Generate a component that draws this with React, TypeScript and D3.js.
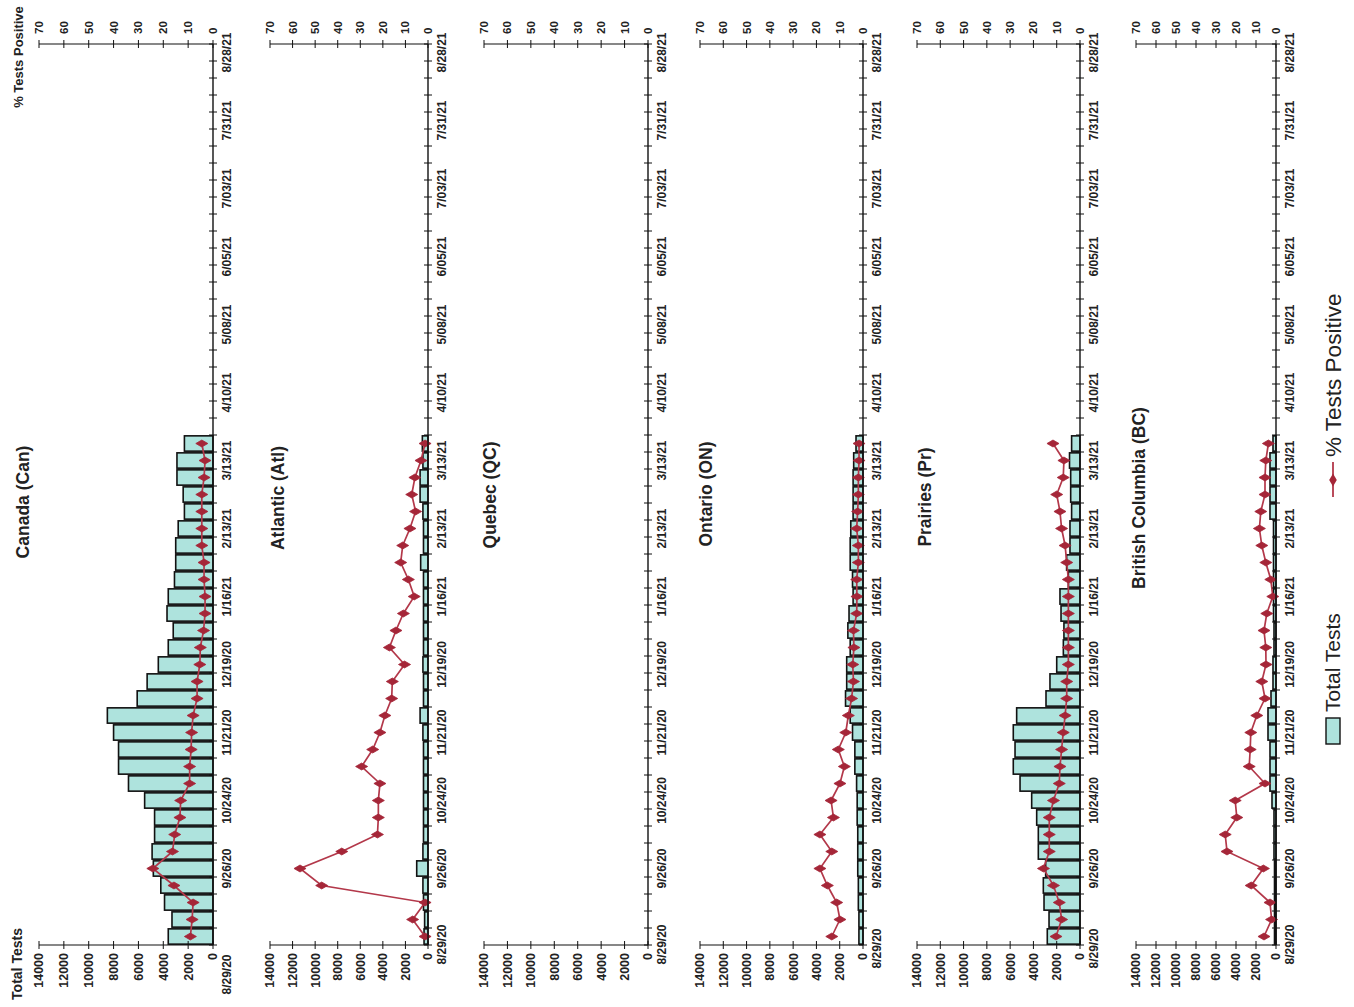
import React from 'react';
import * as d3 from 'd3';

// Weekly reporting periods (week ending dates), 53 weeks
const weekStart = new Date(2020, 7, 29);
const weekCount = 53;
const tickLabels = [
  '8/29/20', '9/26/20', '10/24/20', '11/21/20', '12/19/20', '1/16/21', '2/13/21',
  '3/13/21', '4/10/21', '5/08/21', '6/05/21', '7/03/21', '7/31/21', '8/28/21',
];
const testTicks = [0, 2000, 4000, 6000, 8000, 10000, 12000, 14000];
const pctTicks = [0, 10, 20, 30, 40, 50, 60, 70];

// Total tests per week by region
const canTests = [3600, 3300, 3900, 4200, 4800, 4900, 4700, 4700, 5500, 6800, 7600, 7600, 8000, 8500, 6100, 5300, 4400, 3600, 3200, 3700, 3600, 3100, 3000, 3000, 2800, 2300, 2400, 2900, 2900, 2300];
const atlTests = [350, 300, 400, 450, 1000, 450, 400, 400, 400, 400, 400, 400, 450, 700, 400, 400, 450, 400, 400, 400, 400, 400, 650, 400, 400, 450, 700, 700, 450, 500];
const qcTests: number[] = [];
const onTests = [350, 350, 400, 400, 450, 450, 450, 500, 500, 550, 700, 700, 900, 1100, 1500, 1400, 1400, 1100, 1300, 1200, 850, 900, 1100, 1100, 1050, 850, 850, 850, 800, 600];
const prTests = [2810, 2660, 3090, 3150, 2950, 3580, 3580, 3720, 4150, 5150, 5730, 5580, 5730, 5440, 2920, 2580, 2000, 1430, 1380, 1630, 1720, 1000, 1150, 860, 860, 720, 800, 800, 900, 720];
const bcTests = [150, 150, 150, 150, 150, 200, 200, 200, 400, 600, 600, 600, 800, 800, 500, 300, 300, 200, 200, 250, 250, 250, 250, 250, 250, 600, 600, 600, 600, 300];

// Percent of tests positive per week by region
const canPct = [9.1, 8.4, 8.0, 15.7, 24.2, 16.3, 15.4, 13.3, 13.0, 9.4, 9.4, 8.8, 8.6, 8.0, 6.4, 6.4, 5.3, 5.1, 3.8, 3.2, 3.2, 3.6, 3.6, 4.5, 4.5, 4.5, 4.5, 3.6, 3.2, 4.5];
const atlPct = [1.3, 6.8, 1.3, 47.1, 56.7, 38.2, 22.4, 22.0, 22.0, 21.3, 29.4, 24.5, 21.3, 19.1, 16.1, 15.8, 10.4, 17.1, 14.2, 10.9, 6.1, 8.7, 12.1, 11.2, 8.0, 5.5, 7.2, 5.8, 3.1, 1.3];
const qcPct: number[] = [];
const onPct = [13.4, 9.9, 11.3, 15.3, 18.5, 13.4, 18.5, 12.7, 13.7, 9.9, 8.0, 10.6, 7.4, 6.3, 4.9, 4.1, 4.4, 3.9, 4.1, 2.7, 2.6, 2.7, 2.0, 2.0, 2.7, 2.3, 2.0, 2.0, 1.7, 1.7];
const prPct = [10.3, 7.9, 8.9, 11.4, 15.7, 13.2, 13.2, 13.2, 11.4, 8.9, 8.6, 7.9, 7.2, 6.4, 5.7, 5.7, 5.0, 5.0, 5.0, 5.0, 5.0, 5.0, 5.7, 6.4, 7.9, 8.6, 10.0, 7.2, 6.9, 11.6];
const bcPct = [6.0, 2.2, 3.0, 12.4, 6.3, 24.5, 25.4, 19.6, 20.4, 5.5, 13.4, 12.9, 12.6, 9.6, 5.5, 7.1, 5.0, 5.1, 6.0, 4.6, 1.6, 2.6, 5.1, 7.1, 8.3, 7.6, 5.5, 5.5, 5.1, 3.8];

const regions = [
  { title: 'Canada (Can)', tests: canTests, pct: canPct, axisX: 213, h: 174, titleX: 23, titleY: 502, firstShift: -38 },
  { title: 'Atlantic (Atl)', tests: atlTests, pct: atlPct, axisX: 428, h: 158, titleX: 278, titleY: 498, firstShift: -8 },
  { title: 'Quebec (QC)', tests: qcTests, pct: qcPct, axisX: 648, h: 164, titleX: 490, titleY: 495, firstShift: -8 },
  { title: 'Ontario (ON)', tests: onTests, pct: onPct, axisX: 863, h: 163, titleX: 706, titleY: 494, firstShift: -12 },
  { title: 'Prairies (Pr)', tests: prTests, pct: prPct, axisX: 1080, h: 163, titleX: 925, titleY: 497, firstShift: -12 },
  { title: 'British Columbia (BC)', tests: bcTests, pct: bcPct, axisX: 1276, h: 140, titleX: 1139, titleY: 498, firstShift: -8 },
];

const FONT = '"Liberation Sans", Arial, Helvetica, sans-serif';
const BAR_FILL = '#aee3dd';
const LINE = '#b3384a';
const MARK = '#a52638';
const BASE_Y = 945;
const PLOT_W = 901;

const weeks = d3.range(weekCount).map((i) => d3.timeDay.offset(weekStart, i * 7));
const fmt = d3.timeFormat('%-m/%d/%y');

function Panel({ r }: { r: (typeof regions)[number] }) {
  const x = d3.scaleBand<number>().domain(d3.range(weekCount)).range([0, PLOT_W]).padding(0);
  const step = x.step();
  const bw = step * 0.9;
  const yT = d3.scaleLinear().domain([0, 14000]).range([0, -r.h]);
  const yP = d3.scaleLinear().domain([0, 70]).range([0, -r.h]);
  const cx = (i: number) => (x(i) as number) + step / 2;
  const line = d3
    .line<number>()
    .x((_, i) => cx(i))
    .y((v) => yP(v));
  const diamond = d3.symbol(d3.symbolDiamond, 42)() as string;
  const boundaries = d3.range(weekCount + 1).map((i) => i * step);

  return (
    <g>
      <g transform={`translate(${r.axisX},${BASE_Y}) rotate(-90)`}>
        {r.tests.map((v, i) => (
          <rect
            key={i}
            x={cx(i) - bw / 2}
            y={yT(v)}
            width={bw}
            height={-yT(v)}
            fill={BAR_FILL}
            stroke="#111"
            strokeWidth={1.6}
          />
        ))}
        {r.pct.length > 0 && (
          <path d={line(r.pct) as string} fill="none" stroke={LINE} strokeWidth={1.7} />
        )}
        {r.pct.map((v, i) => (
          <path key={i} d={diamond} transform={`translate(${cx(i)},${yP(v)})`} fill={MARK} stroke={MARK} strokeWidth={0.8} />
        ))}
        {/* date axis */}
        <line x1={0} x2={PLOT_W} y1={0} y2={0} stroke="#111" strokeWidth={1.4} />
        {boundaries.map((b, i) => (
          <line key={i} x1={b} x2={b} y1={-4} y2={4} stroke="#111" strokeWidth={1} />
        ))}
        {weeks.map((d, i) =>
          i % 4 === 0 ? (
            <text
              key={i}
              x={cx(i) + (i === 0 ? r.firstShift : 0)}
              y={18}
              textAnchor="middle"
              fontSize={12}
              fontWeight="bold"
              fontFamily={FONT}
              fill="#222"
            >
              {tickLabels[i / 4] ?? fmt(d)}
            </text>
          ) : null,
        )}
        {/* total tests axis */}
        <line x1={0} x2={0} y1={0} y2={-r.h} stroke="#111" strokeWidth={1.2} />
        {testTicks.map((t) => (
          <g key={t}>
            <line x1={-4} x2={4} y1={yT(t)} y2={yT(t)} stroke="#111" strokeWidth={1} />
            <text x={-8} y={yT(t)} dy="0.35em" textAnchor="end" fontSize={12.5} fontWeight="bold" fontFamily={FONT} fill="#222">
              {t}
            </text>
          </g>
        ))}
        {/* percent positive axis */}
        <line x1={PLOT_W} x2={PLOT_W} y1={0} y2={-r.h} stroke="#111" strokeWidth={1.2} />
        {pctTicks.map((t) => (
          <g key={t}>
            <line x1={PLOT_W - 4} x2={PLOT_W + 4} y1={yP(t)} y2={yP(t)} stroke="#111" strokeWidth={1} />
            <text x={PLOT_W + 10} y={yP(t)} dy="0.35em" textAnchor="start" fontSize={11.5} fontWeight="bold" fontFamily={FONT} fill="#222">
              {t}
            </text>
          </g>
        ))}
      </g>
      <text
        transform={`translate(${r.titleX},${r.titleY}) rotate(-90)`}
        textAnchor="middle"
        dy="0.35em"
        fontSize={17.5}
        fontWeight="bold"
        fontFamily={FONT}
        fill="#222"
      >
        {r.title}
      </text>
    </g>
  );
}

export default function App() {
  const diamond = d3.symbol(d3.symbolDiamond, 50)() as string;
  return (
    <svg
      width={1354}
      height={1007}
      style={{ position: 'absolute', left: 0, top: 0, background: '#fff' }}
    >
      <rect width={1354} height={1007} fill="#fff" />
      {regions.map((r) => (
        <Panel key={r.title} r={r} />
      ))}
      <text transform="translate(18,57) rotate(-90)" textAnchor="middle" dy="0.35em" fontSize={13} fontWeight="bold" fontFamily={FONT} fill="#222">
        % Tests Positive
      </text>
      <text transform="translate(17,964) rotate(-90)" textAnchor="middle" dy="0.35em" fontSize={14} fontWeight="bold" fontFamily={FONT} fill="#222">
        Total Tests
      </text>
      {/* legend */}
      <g transform="translate(1333,0)">
        <rect x={-7} y={718} width={14} height={26} fill={BAR_FILL} stroke="#111" strokeWidth={1.4} />
        <text transform="translate(0,712) rotate(-90)" dy="0.35em" fontSize={21} fontFamily={FONT} fill="#222">
          Total Tests
        </text>
        <line x1={0} x2={0} y1={462} y2={497} stroke={LINE} strokeWidth={1.8} />
        <path d={diamond} transform="translate(0,480)" fill={MARK} />
        <text transform="translate(0,457) rotate(-90)" dy="0.35em" fontSize={22.5} fontFamily={FONT} fill="#222">
          % Tests Positive
        </text>
      </g>
    </svg>
  );
}
